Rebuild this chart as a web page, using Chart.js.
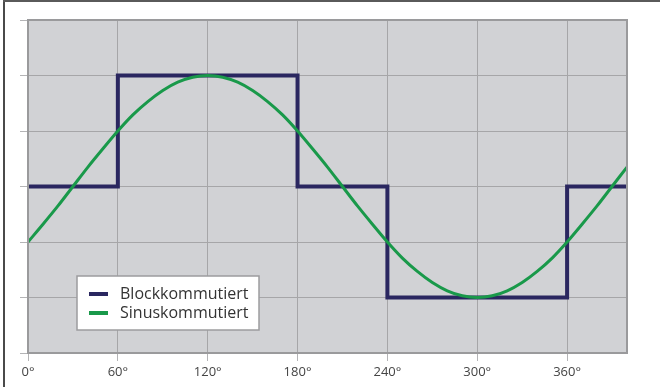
<!DOCTYPE html>
<html>
<head>
<meta charset="utf-8">
<script src="https://cdn.jsdelivr.net/npm/chart.js@4.4.1/dist/chart.umd.min.js"></script>
<style>
  html, body { margin: 0; padding: 0; background: #fff; }
  #wrap { position: relative; width: 660px; height: 387px; }
  #grafiek { position: absolute; left: 0; top: 0; }
  .rand-links { position: absolute; left: 3px; top: 0; width: 2px; height: 387px; background: #4a4a4a; }
  .rand-boven { position: absolute; left: 3px; top: 0; width: 657px; height: 2px; background: #5a5a5a; }
</style>
</head>
<body>
<div id="wrap">
  <canvas id="grafiek" width="660" height="387"></canvas>
  <div class="rand-links"></div>
  <div class="rand-boven"></div>
</div>
<script>
"use strict";

// Hoek in graden (x-as)
const hoeken = [0, 10, 20, 30, 40, 50, 60, 70, 80, 90, 100, 110, 120, 130, 140, 150, 160, 170, 180, 190, 200,
    210, 220, 230, 240, 250, 260, 270, 280, 290, 300, 310, 320, 330, 340, 350, 360, 370, 380, 390, 400];
// Sinuskommutiert
const sinusWaarden = [-1.00, -0.68, -0.35, 0.00, 0.35, 0.68, 1.00, 1.29, 1.53, 1.73, 1.88, 1.97, 2.00, 1.97, 1.88,
    1.73, 1.53, 1.29, 1.00, 0.68, 0.35, 0.00, -0.35, -0.68, -1.00, -1.29, -1.53, -1.73, -1.88, -1.97, -2.00,
    -1.97, -1.88, -1.73, -1.53, -1.29, -1.00, -0.68, -0.35, 0.00, 0.35];
// Blockkommutiert (trapvorm)
const blokHoeken = [0, 60, 60, 180, 180, 240, 240, 360, 360, 400];
const blokWaarden = [0, 0, 2, 2, 0, 0, -2, -2, 0, 0];

const labels = ['Blockkommutiert', 'Sinuskommutiert'];
const kleur = ['#2a2760', '#19994a'];

const xMin = 0, xMax = 400, xStap = 60;
const yMin = -3, yMax = 3, yStap = 1;

const ctx = document.getElementById('grafiek');

// achtergrond van het plotvlak
const achtergrond = {
    id: 'achtergrond',
    beforeDraw(chart) {
        const a = chart.chartArea;
        const c = chart.ctx;
        c.save();
        c.fillStyle = '#d1d2d5';
        c.fillRect(a.left, a.top, a.right - a.left, a.bottom - a.top);
        c.restore();
    },
    // rand rondom het plotvlak (boven en rechts ontbreken anders)
    afterDatasetsDraw(chart) {
        const a = chart.chartArea;
        const c = chart.ctx;
        c.save();
        c.strokeStyle = '#9a9a9c';
        c.lineWidth = 2;
        c.strokeRect(a.left, a.top, a.right - a.left, a.bottom - a.top);
        c.restore();
    }
};

// eigen legenda in het plotvlak
const legenda = {
    id: 'legenda',
    afterDraw(chart) {
        const c = chart.ctx;
        const x = 77, y = 276, b = 182, h = 54;
        c.save();
        c.fillStyle = '#ffffff';
        c.fillRect(x, y, b, h);
        c.strokeStyle = '#9c9c9e';
        c.lineWidth = 1.5;
        c.strokeRect(x, y, b, h);
        c.font = '16px "Open Sans", sans-serif';
        c.textBaseline = 'middle';
        labels.forEach((titel, i) => {
            const ly = y + 18 + i * 19;
            c.strokeStyle = kleur[i];
            c.lineWidth = 4;
            c.beginPath();
            c.moveTo(x + 12, ly);
            c.lineTo(x + 31, ly);
            c.stroke();
            c.fillStyle = '#333333';
            c.fillText(titel, x + 43, ly);
        });
        c.restore();
    }
};

const config = {
    type: 'line',
    data: {
        datasets: [
            {
                label: labels[0],
                data: blokHoeken.map((h, i) => ({ x: h, y: blokWaarden[i] })),
                borderColor: kleur[0],
                backgroundColor: kleur[0],
                borderWidth: 4,
                pointRadius: 0,
                borderJoinStyle: 'miter',
                tension: 0,
                fill: false,
                order: 1
            },
            {
                label: labels[1],
                data: hoeken.map((h, i) => ({ x: h, y: sinusWaarden[i] })),
                borderColor: kleur[1],
                backgroundColor: kleur[1],
                borderWidth: 3,
                pointRadius: 0,
                cubicInterpolationMode: 'monotone',
                fill: false,
                order: 0
            }
        ]
    },
    options: {
        responsive: false,
        animation: false,
        layout: { padding: { left: 20, top: 20, right: 33, bottom: 0 } },
        plugins: {
            legend: { display: false },
            tooltip: { enabled: false }
        },
        scales: {
            x: {
                type: 'linear',
                min: xMin,
                max: xMax,
                afterFit(scale) { scale.height = 34; },
                ticks: {
                    stepSize: xStap,
                    includeBounds: false,
                    color: '#444444',
                    font: { family: '"Open Sans", sans-serif', size: 13 },
                    padding: 3,
                    maxRotation: 0,
                    callback: (v) => v + '°'
                },
                grid: { color: '#a6a6a8', lineWidth: 1, tickLength: 8, tickColor: '#b4b4b6' },
                border: { color: '#9a9a9c', width: 2 }
            },
            y: {
                min: yMin,
                max: yMax,
                afterFit(scale) { scale.width = 8; },
                ticks: { stepSize: yStap, display: false },
                grid: { color: '#a6a6a8', lineWidth: 1, tickLength: 8, tickColor: '#b4b4b6' },
                border: { color: '#9a9a9c', width: 2 }
            }
        }
    },
    plugins: [achtergrond, legenda]
};

const chart = new Chart(ctx, config);
</script>
</body>
</html>
